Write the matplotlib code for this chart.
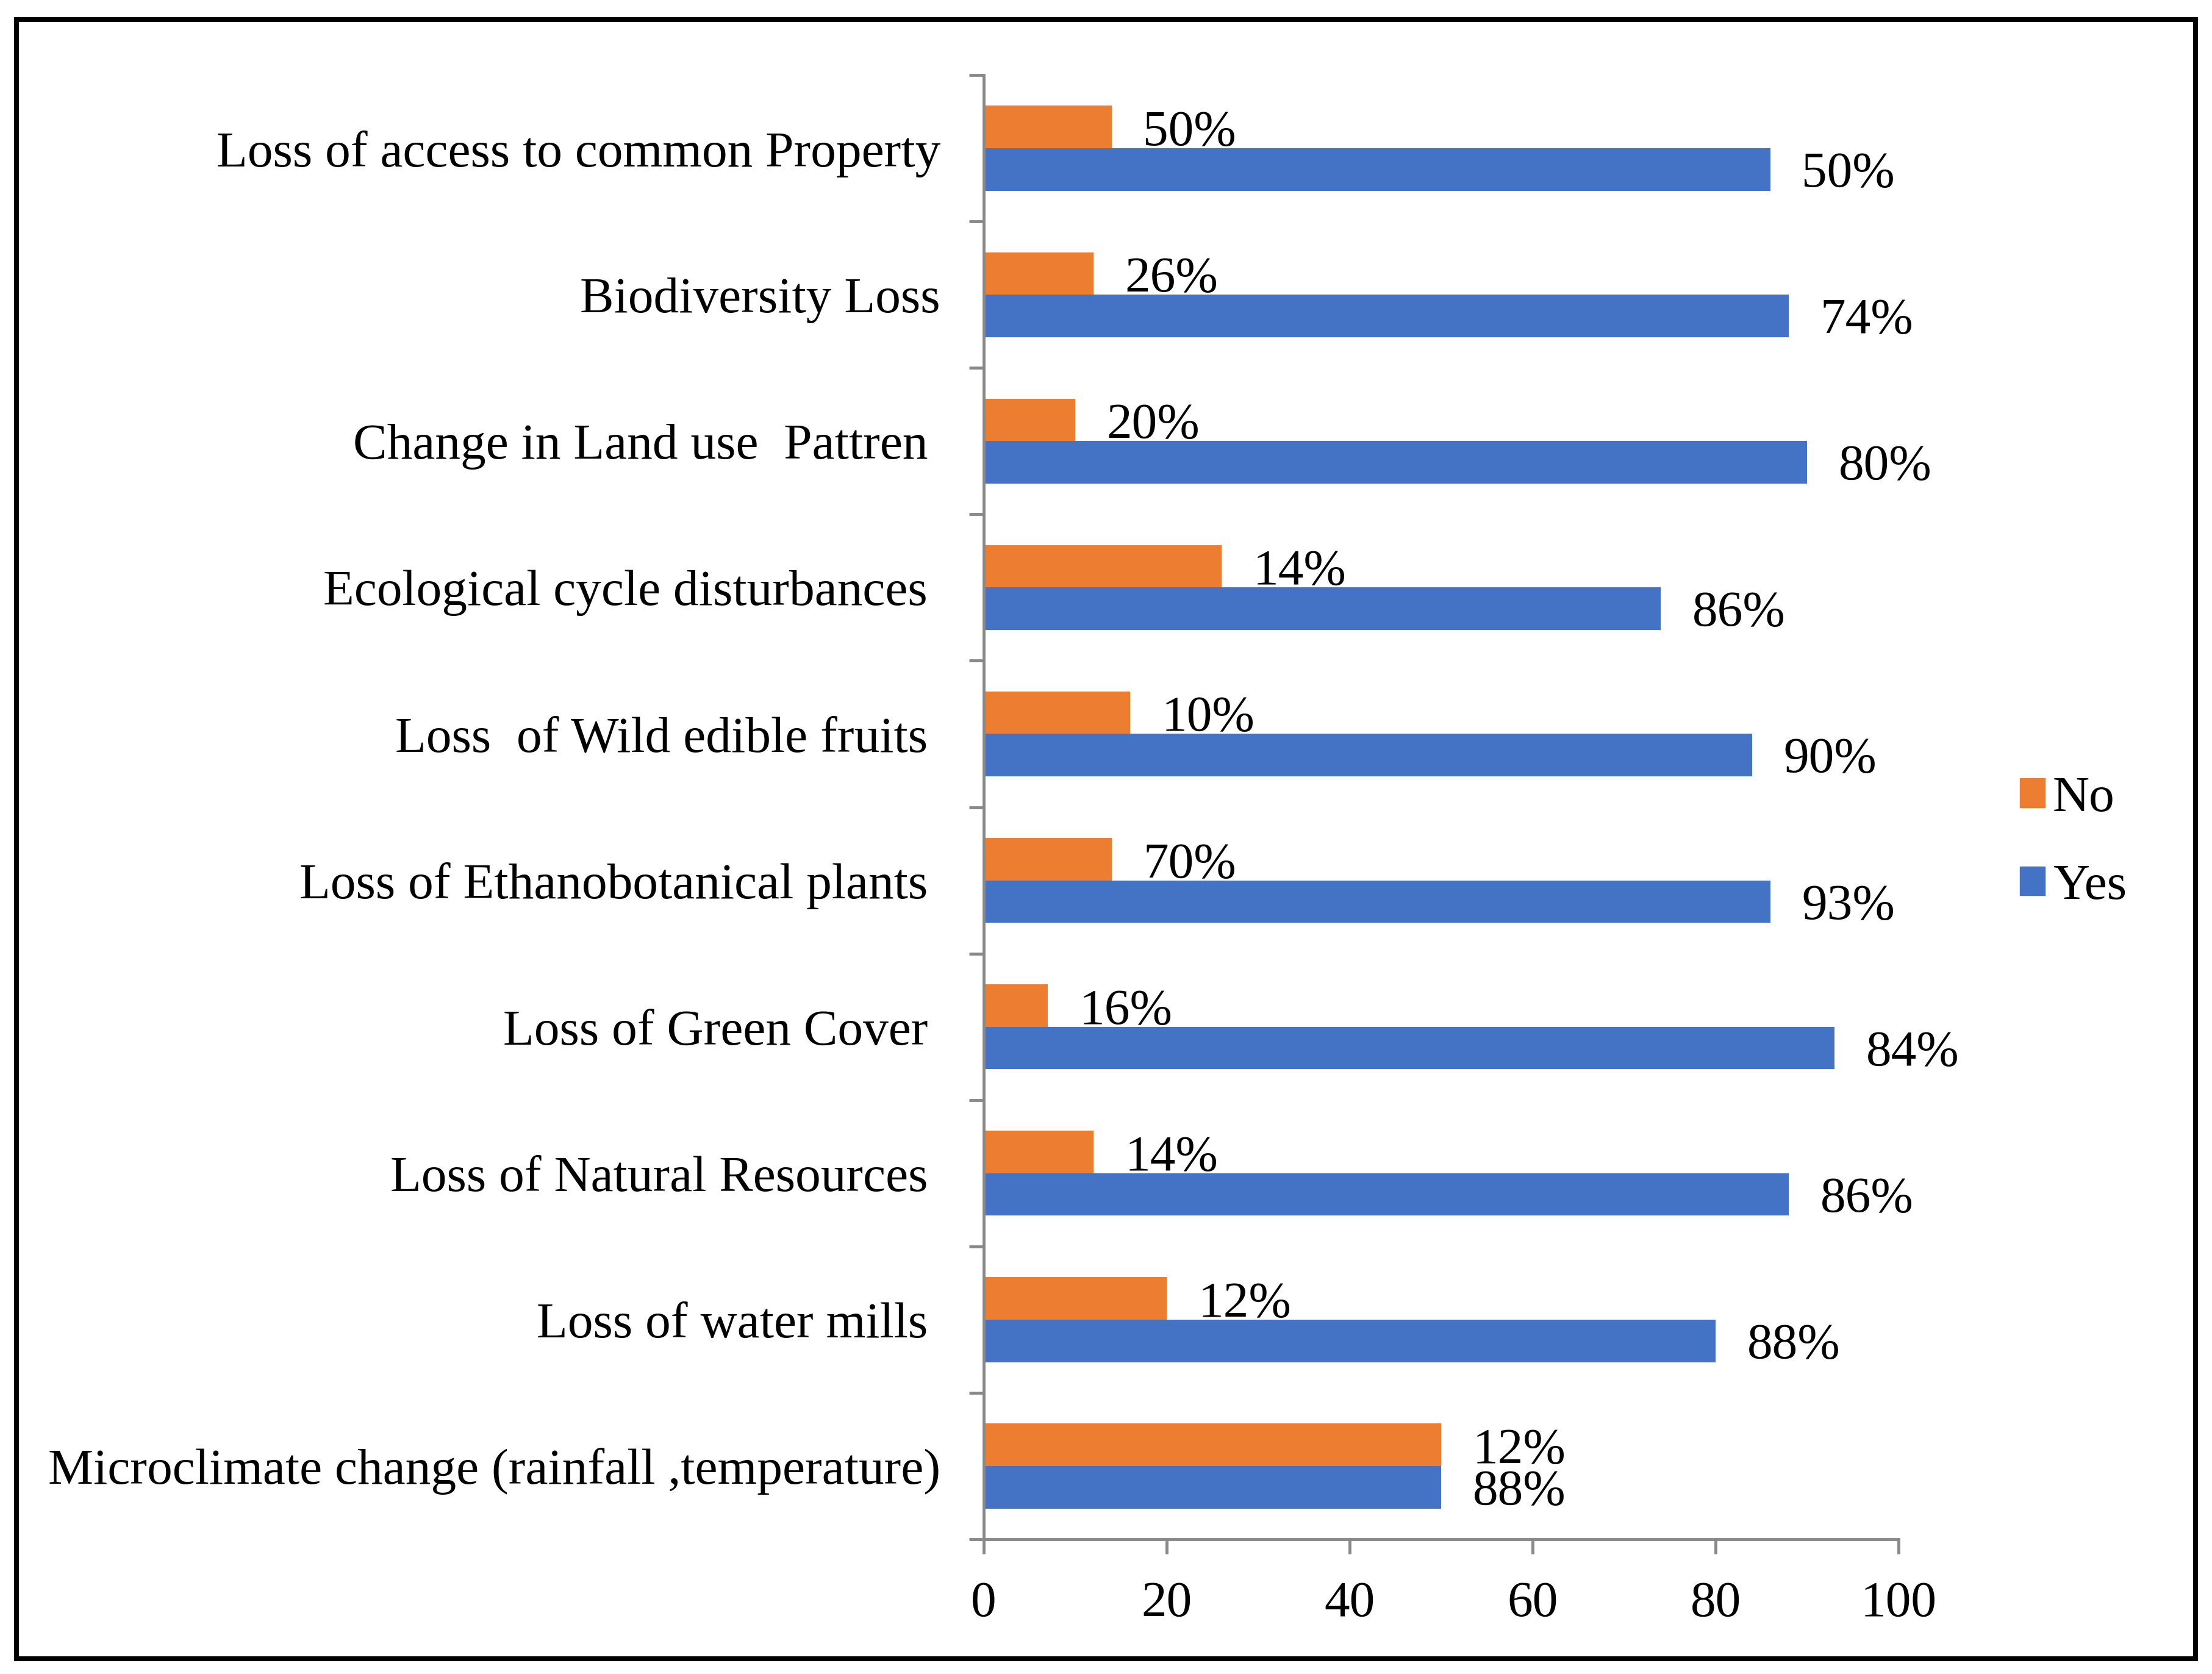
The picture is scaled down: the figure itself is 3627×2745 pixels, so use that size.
import numpy as np
import matplotlib
matplotlib.use("Agg")
import matplotlib.pyplot as plt
from matplotlib.patches import Patch, Rectangle

plt.rcParams['font.family'] = ['Liberation Serif', 'DejaVu Serif']

# categories from bottom to top
categories = [
    "Microclimate change (rainfall ,temperature)",
    "Loss of water mills ",
    "Loss of Natural Resources ",
    "Loss of Green Cover ",
    "Loss of Ethanobotanical plants ",
    "Loss  of Wild edible fruits ",
    "Ecological cycle disturbances ",
    "Change in Land use  Pattren ",
    "Biodiversity Loss",
    "Loss of access to common Property",
]
no_values = [50, 20, 12, 7, 14, 16, 26, 10, 12, 14]
yes_values = [50, 80, 88, 93, 86, 84, 74, 90, 88, 86]
no_labels = ["12%", "12%", "14%", "16%", "70%", "10%", "14%", "20%", "26%", "50%"]
yes_labels = ["88%", "88%", "86%", "84%", "93%", "90%", "86%", "80%", "74%", "50%"]
x_ticks = [0, 20, 40, 60, 80, 100]

orange = "#ED7D31"
blue = "#4472C4"
grey = "#898989"
fs = 60

fig = plt.figure(figsize=(36.27, 27.45), dpi=100)
ax = fig.add_axes([0.4447, 0.0805, 0.8583 - 0.4447, 0.9552 - 0.0805])

y = np.arange(len(categories))
h = 0.29
ax.barh(y + h / 2, no_values, height=h, color=orange, label="No")
ax.barh(y - h / 2, yes_values, height=h, color=blue, label="Yes")

for yi, v, t in zip(y, no_values, no_labels):
    ax.annotate(t, xy=(v, yi + h / 2), xytext=(37, -21.5), textcoords="offset points",
                ha="left", va="baseline", fontsize=fs)
for yi, v, t in zip(y, yes_values, yes_labels):
    ax.annotate(t, xy=(v, yi - h / 2), xytext=(37, -20.3), textcoords="offset points",
                ha="left", va="baseline", fontsize=fs)

ax.set_xlim(0, 100)
ax.set_ylim(-0.5, len(categories) - 0.5)
ax.set_xticks(x_ticks)
ax.set_yticks(y)
ax.set_yticklabels(categories)
ax.set_yticks(np.arange(-0.5, len(categories)), minor=True)

for s in ["top", "right"]:
    ax.spines[s].set_visible(False)
for s in ["left", "bottom"]:
    ax.spines[s].set_color(grey)
    ax.spines[s].set_linewidth(3.5)

ax.tick_params(axis="y", which="major", length=0, pad=51, labelsize=fs)
ax.tick_params(axis="y", which="minor", length=17, width=3.5, color=grey, direction="out")
ax.tick_params(axis="x", length=17, width=3.5, color=grey, direction="out", pad=32, labelsize=fs)

handles = [Patch(color=orange, label="No"), Patch(color=blue, label="Yes")]
fig.legend(handles=handles, loc="center left", bbox_to_anchor=(0.9131, 0.4965),
           frameon=False, fontsize=fs, handlelength=0.5, handleheight=0.5,
           handletextpad=0.15, labelspacing=0.83, borderpad=0, borderaxespad=0)

fig.add_artist(Rectangle((0.0074, 0.0091), 0.9851, 0.9792, transform=fig.transFigure,
                         fill=False, edgecolor="black", linewidth=5.8))

fig.savefig("out.png", dpi=100)
